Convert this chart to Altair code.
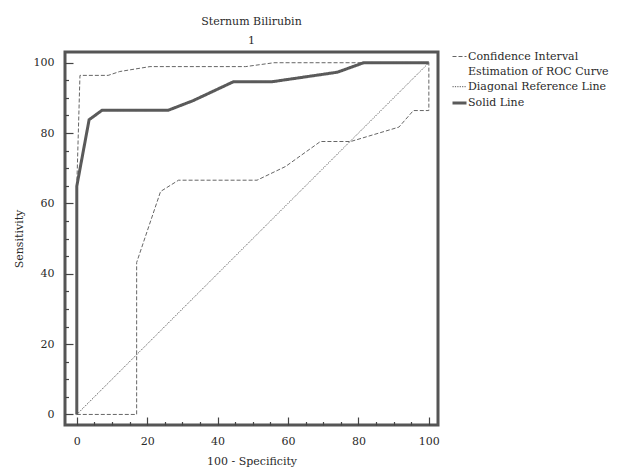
import altair as alt
import pandas as pd

# ROC curve (x = 100 - specificity, y = sensitivity)
roc_x = [0, 0, 3.5, 7.2, 26, 33, 44.5, 55.5, 74, 81.5, 100]
roc_y = [0, 64.9, 83.8, 86.5, 86.5, 89.2, 94.6, 94.6, 97.3, 100, 100]
# confidence interval bounds
upper_x = [0, 0, 0.9, 8.9, 12.2, 20.8, 48, 56, 100]
upper_y = [0, 64.9, 96.4, 96.4, 97.5, 98.9, 98.9, 100, 100]
lower_x = [0, 17, 17, 23.8, 28.9, 51.2, 59.3, 69.2, 77.8, 91.5, 95.6, 100, 100]
lower_y = [0, 0, 43.2, 63.4, 66.6, 66.6, 70.5, 77.6, 77.6, 81.7, 86.4, 86.4, 100]
diag_x = [0, 100]
diag_y = [0, 100]

groups = ["Confidence Interval Estimation of ROC Curve", "Diagonal Reference Line", "Solid Line"]
line_widths = [1, 1, 3]
tick_values = list(range(0, 101, 5))

rows = []
def add(xs, ys, series, group):
    for i, (a, b) in enumerate(zip(xs, ys)):
        rows.append({"x": a, "y": b, "series": series, "group": group, "i": i})

add(upper_x, upper_y, "upper", groups[0])
add(lower_x, lower_y, "lower", groups[0])
add(diag_x, diag_y, "diag", groups[1])
add(roc_x, roc_y, "roc", groups[2])
df = pd.DataFrame(rows)

FONT = "DejaVu Serif"
TXT = "#2a2a2a"
tick_cond = {"condition": {"test": "datum.value % 20 === 0", "value": -8}, "value": -3.5}

def make_axis(title, label_pad, title_pad):
    return alt.Axis(values=tick_values, labelExpr="datum.value % 20 === 0 ? datum.label : ''",
                    domain=False, tickColor="#444", tickWidth=1.2, tickSize=tick_cond,
                    labelPadding=label_pad, grid=False, title=title, labelFontSize=11,
                    titleFontSize=11, labelFont=FONT, titleFont=FONT, titleFontWeight="normal",
                    labelColor=TXT, titleColor=TXT, titlePadding=title_pad)

legend = alt.Legend(title=None, orient="none", legendX=386, legendY=-3,
                    symbolType="stroke", symbolSize=196, symbolStrokeColor="#555",
                    labelFont=FONT, labelFontSize=11, labelColor=TXT, labelLimit=300,
                    labelOffset=0, rowPadding=2.2,
                    labelExpr="datum.label == 'Confidence Interval Estimation of ROC Curve' ? ['Confidence Interval', 'Estimation of ROC Curve'] : datum.label")

chart = alt.Chart(df).mark_line(clip=True).encode(
    x=alt.X("x:Q", scale=alt.Scale(domain=[-3.35, 102.6], nice=False, zero=False),
            axis=make_axis("100 - Specificity", 18.5, 9)),
    y=alt.Y("y:Q", scale=alt.Scale(domain=[-3.0, 103.05], nice=False, zero=False),
            axis=make_axis("Sensitivity", 19, 8.5)),
    detail="series:N",
    order="i:Q",
    color=alt.Color("group:N", sort=groups,
                    scale=alt.Scale(domain=groups, range=["#666666", "#555555", "#5a5a5a"]),
                    legend=legend),
    strokeDash=alt.StrokeDash("group:N", sort=groups,
                              scale=alt.Scale(domain=groups, range=[[4, 2], [1.2, 1.2], [1, 0]]),
                              legend=legend),
    strokeWidth=alt.StrokeWidth("group:N", sort=groups,
                                scale=alt.Scale(type="ordinal", domain=groups, range=line_widths),
                                legend=legend),
).properties(
    width=373, height=373,
    padding={"left": 5, "top": 8, "right": 0, "bottom": 0},
    title=alt.TitleParams(text="Sternum Bilirubin", subtitle="1", font=FONT, subtitleFont=FONT,
                          fontSize=11, subtitleFontSize=11, fontWeight="normal", color=TXT,
                          subtitleColor=TXT, anchor="middle", frame="group",
                          subtitlePadding=8, offset=3)
).configure(
    view=alt.ViewConfig(stroke="#555", strokeWidth=3),
    style={"guide-label": {"lineHeight": 15}},
)

chart.save("out.html", embed_options={"renderer": "svg", "actions": False})
